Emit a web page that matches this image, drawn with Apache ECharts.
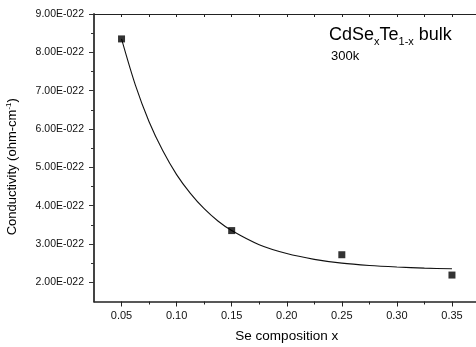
<!DOCTYPE html>
<html>
<head>
<meta charset="utf-8">
<script src="https://cdn.jsdelivr.net/npm/echarts@6/dist/echarts.min.js"></script>
<style>html,body{margin:0;padding:0;background:#fff}#c{width:476px;height:347px}</style>
</head>
<body>
<div id="c"></div>
<script>
// Values in units of 1E-022 ohm^-1 cm^-1
const compX = [0.05, 0.15, 0.25, 0.35];
const conductivity = [8.35, 3.35, 2.72, 2.19];
// Fitted curve
const fitX = [0.05, 0.0625, 0.075, 0.0875, 0.10, 0.1125, 0.125, 0.1375, 0.15, 0.175, 0.20, 0.225, 0.25, 0.275, 0.30, 0.325, 0.35];
const fitY = [8.35, 7.15, 6.19, 5.43, 4.81, 4.32, 3.92, 3.60, 3.35, 2.98, 2.75, 2.60, 2.50, 2.44, 2.40, 2.37, 2.355];
const xMajor = [0.05, 0.10, 0.15, 0.20, 0.25, 0.30, 0.35];
const xMinor = [0.075, 0.125, 0.175, 0.225, 0.275, 0.325];
const yMajor = [2, 3, 4, 5, 6, 7, 8, 9];
const yMinor = [2.5, 3.5, 4.5, 5.5, 6.5, 7.5, 8.5];

const FONT = 'Liberation Sans, Arial, sans-serif';
const chart = echarts.init(document.getElementById('c'), null, {renderer: 'canvas'});
const xBase = {type: 'value', min: 0.025, max: 0.375, splitLine: {show: false}};
const yBase = {type: 'value', min: 1.5, max: 9, splitLine: {show: false}};
chart.setOption({
  animation: false,
  backgroundColor: '#fff',
  title: {
    text: 'CdSe{sub|x}Te{sub|1-x} bulk\n{t|300k}',
    left: 324, top: 18, padding: 5,
    textStyle: {
      fontFamily: FONT, fontSize: 18, fontWeight: 'normal', color: '#000',
      rich: {
        sub: {fontFamily: FONT, fontSize: 11, color: '#000', padding: [13, 0, 0, 0]},
        t: {fontFamily: FONT, fontSize: 13, color: '#000', padding: [3, 0, 0, 2]}
      }
    }
  },
  grid: {left: 94, right: -3.5, top: 14, bottom: 45.5, containLabel: false, outerBoundsMode: 'none'},
  xAxis: [
    Object.assign({}, xBase, {
      position: 'bottom',
      name: 'Se composition x', nameLocation: 'middle', nameGap: 28,
      nameTextStyle: {fontFamily: FONT, fontSize: 13.5, color: '#000'},
      axisLine: {show: true, lineStyle: {color: '#222', width: 1.5}},
      axisTick: {show: true, inside: false, length: 5, customValues: xMajor, lineStyle: {color: '#222', width: 1}},
      axisLabel: {customValues: xMajor, margin: 9, fontFamily: FONT, fontSize: 11, color: '#111',
        formatter: v => v.toFixed(2)}
    }),
    Object.assign({}, xBase, {
      position: 'bottom',
      axisLine: {show: false},
      axisTick: {show: true, inside: false, length: 3, customValues: xMinor, lineStyle: {color: '#222', width: 1}},
      axisLabel: {show: false}
    }),
    Object.assign({}, xBase, {
      position: 'top',
      axisLine: {show: true, lineStyle: {color: '#222', width: 1}},
      axisTick: {show: true, inside: true, length: 3, customValues: xMajor.concat(xMinor), lineStyle: {color: '#222', width: 1}},
      axisLabel: {show: false}
    })
  ],
  yAxis: [
    Object.assign({}, yBase, {
      position: 'left',
      name: 'Conductivity (ohm-cm{sup|-1})', nameLocation: 'middle', nameGap: 74,
      nameTextStyle: {fontFamily: FONT, fontSize: 13, color: '#000', padding: [0, 18, 0, 0],
        rich: {sup: {fontFamily: FONT, fontSize: 8, color: '#000', padding: [0, 0, 7, 0]}}},
      axisLine: {show: true, lineStyle: {color: '#444', width: 2}},
      axisTick: {show: true, inside: false, length: 5, customValues: yMajor, lineStyle: {color: '#333', width: 1}},
      axisLabel: {customValues: yMajor, margin: 10, fontFamily: FONT, fontSize: 10.5, color: '#111',
        formatter: v => v.toFixed(2) + 'E-022'}
    }),
    Object.assign({}, yBase, {
      position: 'left',
      axisLine: {show: false},
      axisTick: {show: true, inside: false, length: 3, customValues: yMinor, lineStyle: {color: '#333', width: 1}},
      axisLabel: {show: false}
    })
  ],
  series: [
    {
      type: 'line', xAxisIndex: 0, yAxisIndex: 0,
      data: fitX.map((x, i) => [x, fitY[i]]),
      smooth: 0.3, showSymbol: false, symbol: 'none',
      lineStyle: {color: '#111', width: 1.1}, silent: true, z: 2
    },
    {
      type: 'scatter', xAxisIndex: 0, yAxisIndex: 0,
      data: compX.map((x, i) => [x, conductivity[i]]),
      symbol: 'rect', symbolSize: 7,
      itemStyle: {color: '#000'}, z: 3
    }
  ]
});
</script>
</body>
</html>
